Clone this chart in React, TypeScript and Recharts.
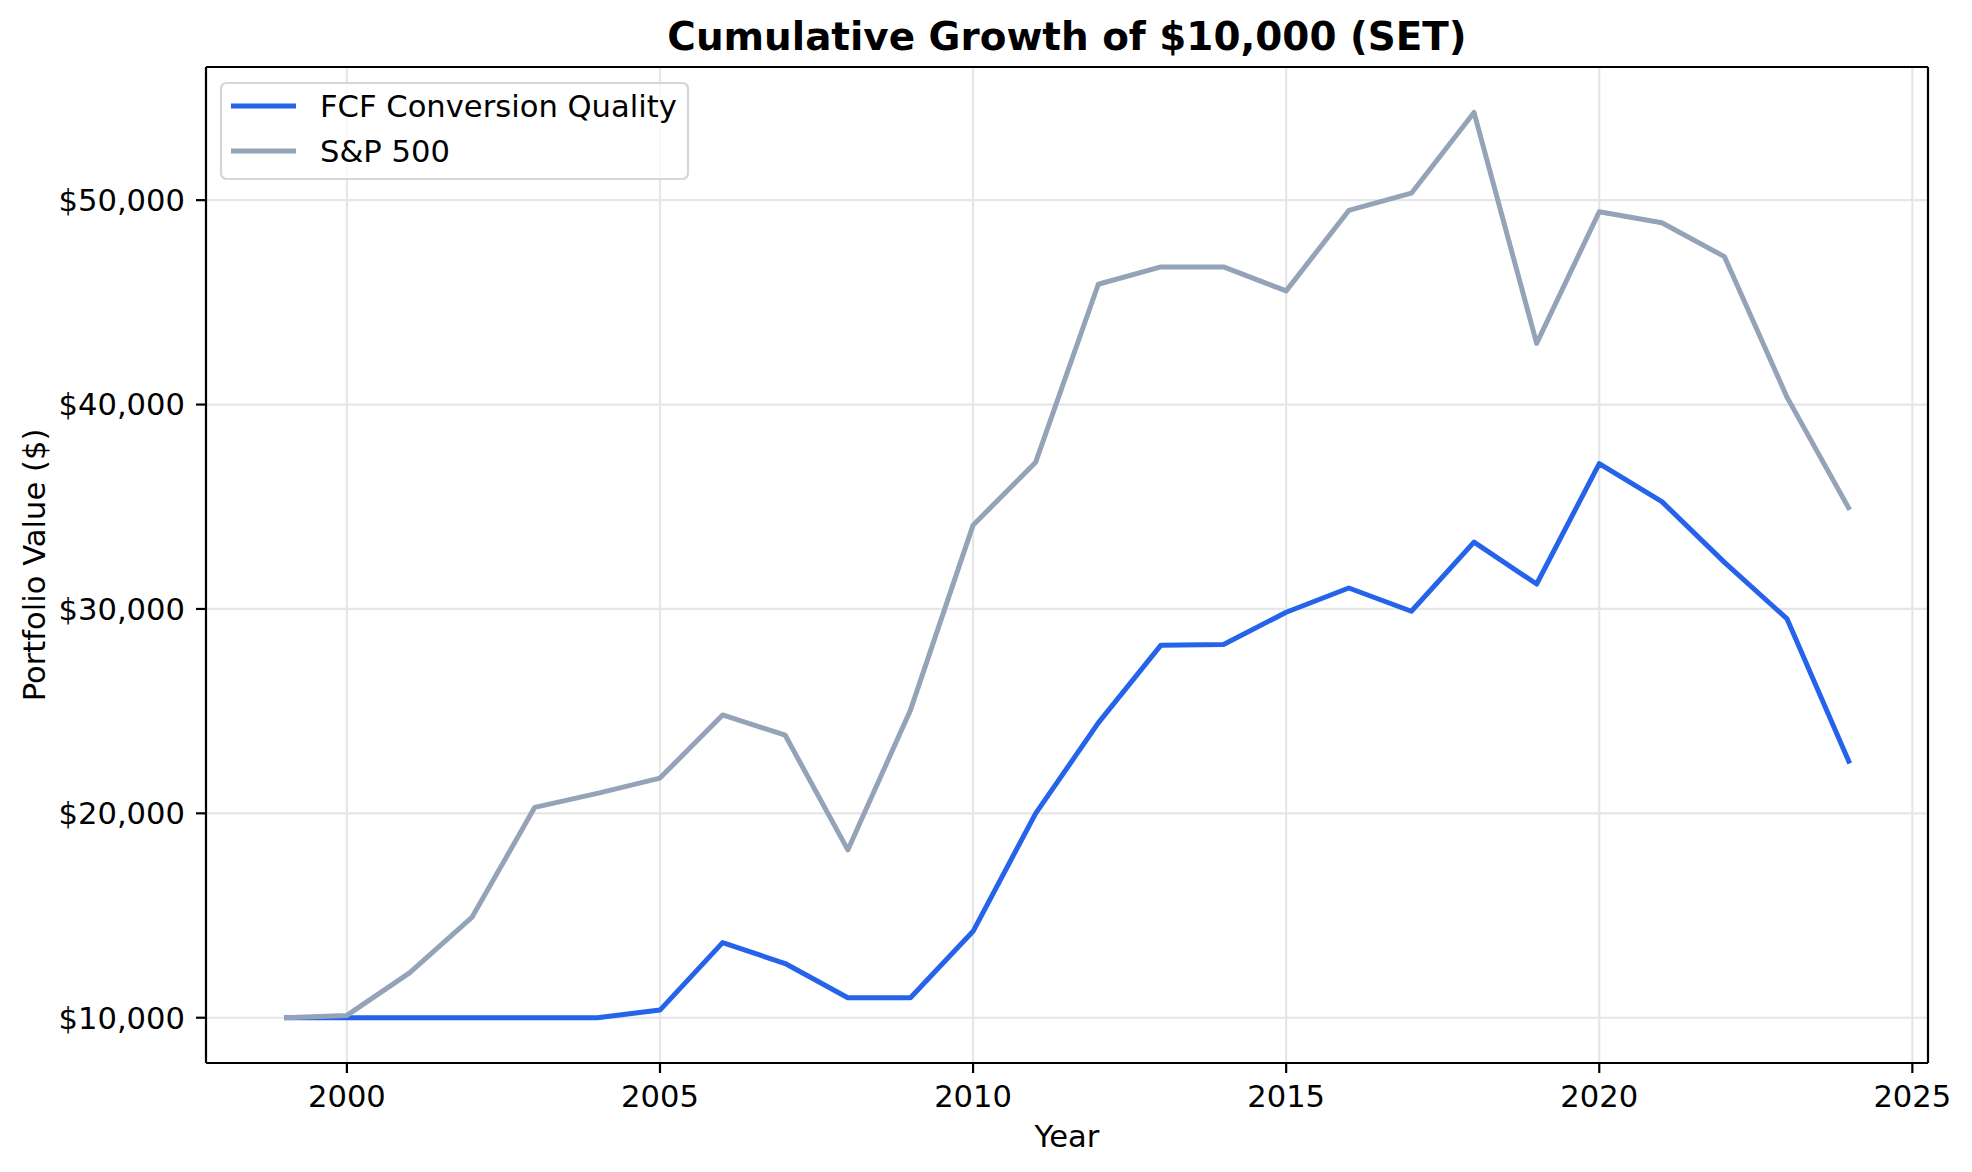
import React from 'react';
import { LineChart, Line, XAxis, YAxis, CartesianGrid, ReferenceLine } from 'recharts';

const years = [1999, 2000, 2001, 2002, 2003, 2004, 2005, 2006, 2007, 2008, 2009, 2010, 2011, 2012, 2013, 2014, 2015, 2016, 2017, 2018, 2019, 2020, 2021, 2022, 2023, 2024];
const fcfValues = [10000, 10000, 10000, 10000, 10000, 10000, 10374, 13675, 12650, 10976, 10976, 14228, 20000, 24423, 28228, 28260, 29838, 31025, 29886, 33268, 31220, 37106, 35252, 32277, 29512, 22439];
const spValues = [10000, 10114, 12195, 14927, 20293, 20976, 21724, 24813, 23821, 18211, 25050, 34100, 37180, 45886, 46732, 46732, 45561, 49496, 50341, 54293, 42992, 49431, 48894, 47236, 40350, 34846];
const xTicks = [2000, 2005, 2010, 2015, 2020, 2025];
const yTicks = [10000, 20000, 30000, 40000, 50000];
const xDomain = [1997.75, 2025.25];
const yDomain = [7785, 56515];
const seriesNames = ['FCF Conversion Quality', 'S&P 500'];
const seriesColors = ['#2563eb', '#94a3b8'];
const titleText = 'Cumulative Growth of $10,000 (SET)';
const xLabelText = 'Year';
const yLabelText = 'Portfolio Value ($)';

const data = years.map((year, i) => ({ year, fcf: fcfValues[i], sp: spValues[i] }));

const FONT = '"DejaVu Sans", Verdana, sans-serif';
const W = 1972;
const H = 1172;
const FS = 30.6;

const fmtDollar = (v: number) => '$' + v.toLocaleString('en-US');

export default function App() {
  const tickStyle = { fill: '#000', fontSize: FS, fontFamily: FONT };
  const axisLineStyle = { stroke: '#000', strokeWidth: 2.2 };
  return (
    <div style={{ position: 'absolute', left: 0, top: 0, width: W, height: H, background: '#fff' }}>
      <LineChart width={W} height={H} data={data} margin={{ top: 67, right: 44, bottom: 49, left: 0 }}>
        <CartesianGrid stroke="#e6e6e6" strokeWidth={2.2} />
        <XAxis
          dataKey="year"
          type="number"
          domain={xDomain}
          ticks={xTicks}
          interval={0}
          allowDataOverflow
          height={60}
          tickSize={10}
          tickMargin={12}
          tick={tickStyle}
          axisLine={axisLineStyle}
          tickLine={axisLineStyle}
        />
        <YAxis
          type="number"
          domain={yDomain}
          ticks={yTicks}
          interval={0}
          allowDataOverflow
          width={206}
          tickSize={10}
          tickMargin={11}
          tick={tickStyle}
          tickFormatter={fmtDollar}
          axisLine={axisLineStyle}
          tickLine={axisLineStyle}
        />
        <ReferenceLine y={yDomain[1]} stroke="#000" strokeWidth={2.2} ifOverflow="visible" />
        <ReferenceLine x={xDomain[1]} stroke="#000" strokeWidth={2.2} ifOverflow="visible" />
        <Line
          type="linear"
          dataKey="fcf"
          name={seriesNames[0]}
          stroke={seriesColors[0]}
          strokeWidth={5}
          strokeLinejoin="round"
          dot={false}
          activeDot={false}
          isAnimationActive={false}
        />
        <Line
          type="linear"
          dataKey="sp"
          name={seriesNames[1]}
          stroke={seriesColors[1]}
          strokeWidth={5}
          strokeLinejoin="round"
          dot={false}
          activeDot={false}
          isAnimationActive={false}
        />
      </LineChart>
      <svg
        width={W}
        height={H}
        style={{ position: 'absolute', left: 0, top: 0, pointerEvents: 'none' }}
        fontFamily={FONT}
      >
        <text x={1067} y={50} textAnchor="middle" fontSize={38.9} fontWeight="bold" fill="#000">
          {titleText}
        </text>
        <text x={1067} y={1147} textAnchor="middle" fontSize={FS} fill="#000">
          {xLabelText}
        </text>
        <text
          x={34}
          y={565}
          textAnchor="middle"
          dominantBaseline="central"
          fontSize={FS}
          fill="#000"
          transform="rotate(-90 34 565)"
        >
          {yLabelText}
        </text>
        <g>
          <rect x={221} y={83} width={467} height={96} rx={5.6} ry={5.6} fill="#fff" fillOpacity={0.8} stroke="#d6d6d6" strokeWidth={2.2} />
          {seriesNames.map((name, i) => (
            <g key={name}>
              <line x1={231} x2={296} y1={106 + i * 45} y2={106 + i * 45} stroke={seriesColors[i]} strokeWidth={5} />
              <text x={320} y={106 + i * 45} dominantBaseline="central" fontSize={FS} fill="#000">
                {name}
              </text>
            </g>
          ))}
        </g>
      </svg>
    </div>
  );
}
